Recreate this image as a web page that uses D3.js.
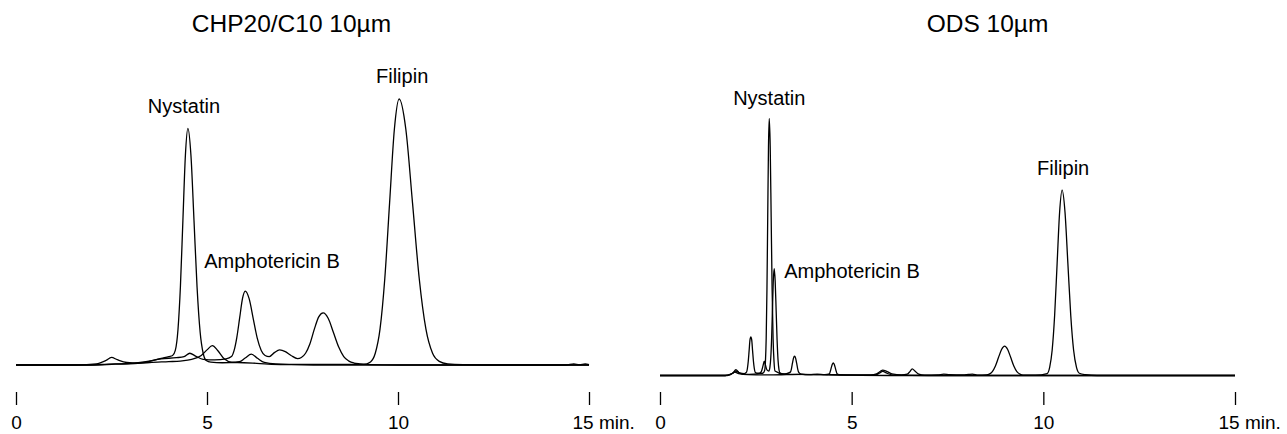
<!DOCTYPE html>
<html>
<head>
<meta charset="utf-8">
<script src="https://cdn.jsdelivr.net/npm/d3@7"></script>
<style>
  html, body { margin: 0; padding: 0; background: #fff; }
  svg { display: block; font-family: "Liberation Sans", Arial, sans-serif; }
</style>
</head>
<body>
<svg id="chart" width="1287" height="434"></svg>
<script>

// 0. data: [time (min), detector signal (0-100)]
const time_ticks = [0, 5, 10, 15];

const chp_nystatin = [
  [0,0],[1.6,0],[2.1,0.4],[2.35,1.6],[2.5,2.7],[2.65,1.9],[2.9,0.9],[3.2,0.7],[3.5,1.3],
  [3.8,2.4],[4.0,3.0],[4.1,3.4],[4.17,5.2],[4.24,12.6],[4.305,28.3],[4.37,52.0],[4.435,75.0],
  [4.5,84.5],[4.58,74.8],[4.66,51.5],[4.74,27.8],[4.82,11.8],[4.9,4.2],[4.98,1.6],[5.1,1.0],
  [5.4,0.8],[5.8,0.9],[6.2,0.7],[6.6,0.3],[7.2,0.1],[8,0],[15,0]
];
const chp_amphotericin = [
  [0,0],[1.8,0],[2.4,0.3],[3.0,0.6],[3.4,1.2],[3.8,2.2],[4.2,2.6],[4.4,3.0],[4.55,4.2],[4.7,3.2],
  [4.9,2.0],[5.2,1.8],[5.5,2.2],[5.64,3.0],[5.71,5.2],[5.78,9.8],[5.855,16.8],[5.93,23.8],
  [6.0,26.4],[6.105,23.6],[6.21,16.6],[6.315,9.6],[6.42,5.2],[6.52,3.4],[6.63,3.0],[6.77,4.5],
  [6.9,5.4],[7.05,4.8],[7.2,3.4],[7.37,2.3],[7.47,2.7],[7.58,4.2],[7.695,7.6],[7.81,12.8],
  [7.925,17.2],[8.04,18.6],[8.175,16.6],[8.31,11.6],[8.445,6.5],[8.58,3.0],[8.715,1.4],
  [8.85,0.7],[9.0,0.4],[9.3,0.1],[10,0],[15,0]
];
const chp_filipin = [
  [0,0],[2.0,0],[2.6,0.3],[3.1,0.5],[3.5,0.9],[4.0,1.2],[4.3,1.4],[4.6,2.0],[4.85,3.4],[5.0,5.4],
  [5.14,6.9],[5.28,5.2],[5.45,2.2],[5.65,1.0],[5.85,1.2],[6.0,2.5],[6.16,3.9],[6.32,2.4],
  [6.5,0.9],[6.8,0.4],[7.5,0.2],[8.5,0.2],[9.1,0.2],[9.28,1.1],[9.405,4.2],[9.53,12.9],
  [9.655,31.0],[9.78,57.9],[9.905,84.2],[10.03,95.0],[10.205,84.2],[10.38,57.9],[10.555,31.0],
  [10.73,12.9],[10.905,4.2],[11.08,1.3],[11.3,0.4],[11.7,0.1],[12.5,0],[14.4,0],[14.6,0.4],
  [14.75,0.1],[14.9,0.4],[15,0.1]
];

const ods_nystatin = [
  [0,0],[1.7,0],[1.88,0.7],[1.98,1.6],[2.08,0.9],[2.2,0.7],[2.2575,1.2],[2.28,2.5],[2.3025,5.1],
  [2.325,8.9],[2.3475,12.7],[2.37,13.8],[2.3925,12.7],[2.415,8.9],[2.4375,5.1],[2.46,2.5],
  [2.4825,1.2],[2.55,0.8],[2.68,0.8],[2.73,1.8],[2.75,4.8],[2.77,13.2],[2.79,30.6],[2.81,56.5],
  [2.83,81.8],[2.85,91.8],[2.875,81.8],[2.9,56.5],[2.925,30.6],[2.95,13.2],[2.975,4.8],
  [3.0,1.6],[3.2,0.6],[3.6,0.4],[4.2,0.3],[5.0,0.1],[6,0],[15,0]
];
const ods_amphotericin = [
  [0,0],[1.75,0],[1.9,0.8],[1.98,2.1],[2.06,1.0],[2.2,0.4],[2.45,0.5],[2.6,0.8],[2.65,1.6],
  [2.69,3.6],[2.72,5.1],[2.75,3.8],[2.79,2.0],[2.84,1.6],[2.8675,3.0],[2.89,6.4],[2.9125,13.6],
  [2.935,24.2],[2.9575,34.4],[2.98,38.2],[3.005,33.6],[3.03,23.2],[3.055,12.6],[3.08,5.4],
  [3.105,2.0],[3.13,0.9],[3.2,0.6],[3.3,0.7],[3.4,1.2],[3.4275,2.3],[3.455,4.4],[3.4825,6.2],
  [3.51,6.9],[3.5375,6.2],[3.565,4.4],[3.5925,2.3],[3.62,1.1],[3.68,0.5],[3.9,0.3],[4.1,0.5],
  [4.3,0.3],[4.42,0.6],[4.445,1.6],[4.47,2.9],[4.495,4.0],[4.52,4.5],[4.545,4.0],[4.57,2.9],
  [4.595,1.6],[4.62,0.6],[4.7,0.2],[5.0,0.1],[5.6,0.1],[5.72,0.8],[5.81,1.5],[5.92,0.8],
  [6.1,0.1],[7,0],[15,0]
];
const ods_filipin = [
  [0,0],[1.7,0],[1.85,0.5],[1.95,1.2],[2.05,0.7],[2.3,0.3],[2.8,0.2],[3.3,0.3],[3.7,0.4],
  [4.3,0.3],[5.0,0.2],[5.5,0.2],[5.65,0.6],[5.75,1.5],[5.81,1.9],[5.9,1.6],[6.05,0.6],
  [6.3,0.2],[6.45,0.5],[6.52,1.4],[6.58,2.4],[6.65,1.6],[6.75,0.5],[6.9,0.1],[7.25,0.2],
  [7.4,0.5],[7.55,0.3],[7.9,0.2],[8.05,0.4],[8.15,0.5],[8.3,0.1],[8.51,0.2],[8.59,0.5],
  [8.67,1.4],[8.75,3.4],[8.83,6.4],[8.91,9.3],[8.99,10.5],[9.07,9.3],[9.15,6.4],[9.23,3.4],
  [9.31,1.4],[9.39,0.5],[9.47,0.1],[9.8,0.1],[10.1,0.7],[10.165,2.9],[10.23,9.0],
  [10.295,21.5],[10.36,40.1],[10.425,58.4],[10.49,66.2],[10.565,58.4],[10.64,40.1],
  [10.715,21.5],[10.79,9.0],[10.865,2.9],[10.94,0.8],[11.1,0.3],[11.4,0],[15,0]
];

// peak names and the retention time they sit on
const chp_labels = [
  { text: 'Nystatin', t: 4.5 },
  { text: 'Amphotericin B', t: 6.0 },
  { text: 'Filipin', t: 10.03 }
];
const ods_labels = [
  { text: 'Nystatin', t: 2.85 },
  { text: 'Amphotericin B', t: 2.98 },
  { text: 'Filipin', t: 10.49 }
];

// 1. layout for the two panels
const panels = [
  {
    title: 'CHP20/C10 10\u00b5m', title_x: 291.5,
    x_range: [16, 589], base_y: 365,
    traces: [chp_nystatin, chp_amphotericin, chp_filipin],
    labels: chp_labels,
    label_pos: [
      { dx: -4, y: 113, anchor: 'middle' },
      { dx: -41, y: 268, anchor: 'start' },
      { dx: 3, y: 83, anchor: 'middle' }
    ]
  },
  {
    title: 'ODS 10\u00b5m', title_x: 987.5,
    x_range: [660, 1235], base_y: 375.5,
    traces: [ods_nystatin, ods_amphotericin, ods_filipin],
    labels: ods_labels,
    label_pos: [
      { dx: 0, y: 105, anchor: 'middle' },
      { dx: 10, y: 278, anchor: 'start' },
      { dx: 1, y: 175, anchor: 'middle' }
    ]
  }
];

const svg = d3.select('#chart');

// 2. draw each panel
panels.forEach((p) => {
  const x_scale = d3.scaleLinear().domain([0, 15]).range(p.x_range);
  const y_scale = d3.scaleLinear().domain([0, 100]).range([p.base_y, p.base_y - 280]);

  const g = svg.append('g');

  g.append('text')
    .attr('x', p.title_x)
    .attr('y', 32)
    .attr('text-anchor', 'middle')
    .style('font-size', '24.5px')
    .text(p.title);

  const line_gen = d3.line()
    .x((d) => x_scale(d[0]))
    .y((d) => y_scale(d[1]))
    .curve(d3.curveMonotoneX);

  g.selectAll('path.trace')
    .data(p.traces)
    .join('path')
    .attr('class', 'trace')
    .attr('fill', 'none')
    .attr('stroke', '#000')
    .attr('stroke-width', 1.3)
    .attr('stroke-linejoin', 'round')
    .attr('d', line_gen);

  p.labels.forEach((lab, i) => {
    const pos = p.label_pos[i];
    g.append('text')
      .attr('x', x_scale(lab.t) + pos.dx)
      .attr('y', pos.y)
      .attr('text-anchor', pos.anchor)
      .style('font-size', '20px')
      .text(lab.text);
  });

  // time axis: bare ticks, last label carries the unit
  const axis = d3.axisBottom(x_scale)
    .tickValues(time_ticks)
    .tickSize(13)
    .tickPadding(10.5)
    .tickFormat((d) => d === 15 ? '15 min.' : d);

  const axis_g = g.append('g')
    .attr('transform', `translate(0, 392)`)
    .call(axis);

  axis_g.select('.domain').remove();
  axis_g.attr('font-family', null).attr('font-size', null);
  axis_g.selectAll('line').attr('stroke', '#000').attr('stroke-width', 1.3);
  axis_g.selectAll('text')
    .attr('fill', '#000')
    .style('font-size', '19px')
    .attr('text-anchor', (d) => d === 15 ? 'start' : 'middle')
    .attr('dx', (d) => d === 15 ? -17 : 0);
});

</script>
</body>
</html>
